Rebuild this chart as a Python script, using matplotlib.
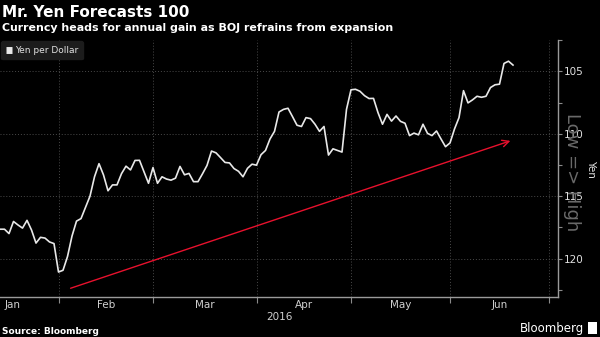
import numpy as np
import pandas as pd
import matplotlib
matplotlib.use("Agg")
import matplotlib.pyplot as plt
from matplotlib.patches import Rectangle

# USD/JPY, one value per business day from 13 Jan 2016 (axis inverted: low => high yen)
yen_per_dollar = [
    117.65, 117.65, 118.00, 117.03, 117.31, 117.56, 116.94, 117.71, 118.76, 118.30,
    118.36, 118.67, 118.80, 121.08, 120.94, 119.84, 118.20, 117.00, 116.80, 115.90,
    115.00, 113.45, 112.40, 113.30, 114.57, 114.10, 114.10, 113.20, 112.60, 112.90,
    112.14, 112.13, 113.05, 113.97, 112.71, 113.97, 113.45, 113.63, 113.72, 113.56,
    112.62, 113.29, 113.18, 113.84, 113.84, 113.21, 112.54, 111.39, 111.53, 111.91,
    112.30, 112.34, 112.79, 113.01, 113.45, 112.77, 112.44, 112.52, 111.68, 111.34,
    110.42, 109.81, 108.26, 108.05, 107.96, 108.63, 109.32, 109.42, 108.71, 108.79,
    109.24, 109.81, 109.42, 111.71, 111.21, 111.34, 111.47, 108.05, 106.48, 106.44,
    106.60, 106.95, 107.18, 107.17, 108.31, 109.24, 108.45, 108.99, 108.58, 109.01,
    109.16, 110.15, 109.95, 110.09, 109.24, 109.97, 110.15, 109.78, 110.42, 111.04,
    110.74, 109.62, 108.71, 106.55, 107.53, 107.29, 107.00, 107.08, 107.00, 106.30,
    106.08, 106.03, 104.37, 104.19, 104.50,
]
start_date = "2016-01-13"
end_date = "2016-07-01"
month_labels = ["Jan", "Feb", "Mar", "Apr", "May", "Jun"]
y_ticks = [105, 110, 115, 120]
y_minor = [102.5, 107.5, 112.5, 117.5, 122.5]
# red trend arrow (business-day index, yen)
arrow_from = (15.1, 122.45)
arrow_to = (114.0, 110.5)

days = pd.bdate_range(start_date, end_date)
pos = np.arange(len(days))
month_start = [pos[days.month == m][0] for m in range(2, 8)]

fig = plt.figure(figsize=(6, 3.37), dpi=100, facecolor="black")
ax = fig.add_axes([0, 0.1187, 0.93, 0.7623], facecolor="black")

ax.plot(pos[:len(yen_per_dollar)], yen_per_dollar, color="#e8e8e8", lw=1.2,
        label="Yen per Dollar", zorder=3)

ax.set_xlim(0, 558 / 4.5)
ax.set_ylim(123.08, 102.79)

grid_kw = dict(color="#4a4a4a", lw=0.7, ls=(0, (1, 2)), zorder=1)
for m in month_start:
    ax.axvline(m, **grid_kw)
for t in y_ticks:
    ax.axhline(t, **grid_kw)

# month labels centered between month boundaries
bounds = [0] + month_start
for i, lab in enumerate(month_labels):
    if i == 0:
        xc = 2.7
    else:
        xc = (bounds[i] + bounds[i + 1]) / 2
    ax.text(xc, -0.012, lab, transform=ax.get_xaxis_transform(), ha="center",
            va="top", color="#d0d0d0", fontsize=7.5)
ax.text(0.5, -0.06, "2016", transform=ax.transAxes, ha="center", va="top",
        color="#d0d0d0", fontsize=7.5)

ax.set_xticks(month_start)
ax.set_xticklabels([])
ax.tick_params(axis="x", colors="#8a8a8a", length=4, width=0.8, direction="out")

ax.yaxis.tick_right()
ax.set_yticks(y_ticks)
ax.set_yticks(y_minor, minor=True)
ax.tick_params(axis="y", which="both", colors="#8a8a8a", length=3, width=0.8,
               labelcolor="#e0e0e0", labelsize=7.5, pad=1.5)

for s in ["top", "left"]:
    ax.spines[s].set_visible(False)
for s in ["bottom", "right"]:
    ax.spines[s].set_color("#9a9a9a")
    ax.spines[s].set_linewidth(1.0)

ax.annotate("", xy=arrow_to, xytext=arrow_from,
            arrowprops=dict(arrowstyle="->", color="#e8112d", lw=1.0,
                            mutation_scale=12), zorder=4)

leg = ax.legend(loc="upper left", frameon=True, fontsize=6.5, handlelength=0.7,
                handleheight=0.7, borderpad=0.5, borderaxespad=0.15,
                handletextpad=0.3, labelcolor="#e0e0e0")
leg.get_frame().set_facecolor("#1c1c1c")
leg.get_frame().set_edgecolor("#1c1c1c")
leg.get_frame().set_alpha(1)
for h in leg.legend_handles:
    h.set_linewidth(5)
    h.set_solid_capstyle("butt")

# the reference draws this over the tick labels
fig.text(0.953, 0.49, "Low => High", rotation=270, ha="center", va="center",
         color="#6a6a6a", fontsize=13)
fig.text(0.985, 0.5, "Yen", rotation=270, ha="center", va="center",
         color="#e0e0e0", fontsize=7.5)

fig.text(0.004, 0.985, "Mr. Yen Forecasts 100", color="white", fontsize=11,
         fontweight="bold", ha="left", va="top")
fig.text(0.004, 0.932, "Currency heads for annual gain as BOJ refrains from expansion",
         color="white", fontsize=7.9, fontweight="bold", ha="left", va="top")
fig.text(0.004, 0.004, "Source: Bloomberg", color="white", fontsize=6.5,
         fontweight="bold", ha="left", va="bottom")
fig.text(0.973, 0.006, "Bloomberg", color="white", fontsize=8.5, ha="right",
         va="bottom")
fig.patches.append(Rectangle((0.98, 0.008), 0.015, 0.036, transform=fig.transFigure,
                             facecolor="white", edgecolor="none"))

fig.savefig("out.png", dpi=100, facecolor="black")
